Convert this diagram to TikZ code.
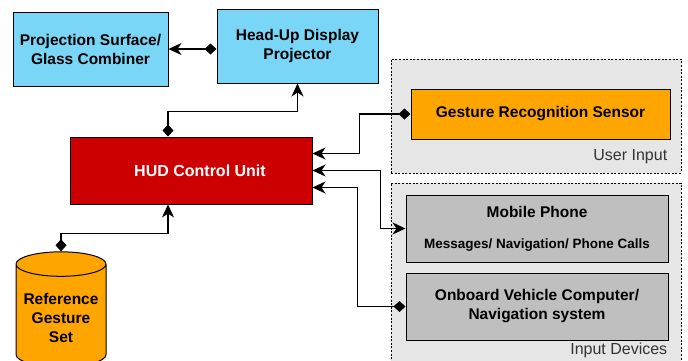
\documentclass[tikz,border=0pt]{standalone}
\usepackage{fontspec}
\setmainfont{Liberation Sans}
\usepackage{tikz}
\usetikzlibrary{positioning, shapes.geometric, arrows.meta}

\definecolor{hudblue}{HTML}{7AD6F6}
\definecolor{hudred}{HTML}{CC0000}
\definecolor{hudorange}{HTML}{FFA500}
\definecolor{devgray}{HTML}{BFBFBF}
\definecolor{grpgray}{HTML}{E6E6E6}
\definecolor{lblgray}{HTML}{333333}

\tikzset{
  box/.style = {draw, line width=1pt, font=\bfseries\fontsize{15.5}{19}\selectfont, align=center},
  grp/.style = {draw, line width=0.9pt, dash pattern=on 2pt off 1.6pt, fill=grpgray},
  grplbl/.style = {inner sep=0pt, text=lblgray, font=\fontsize{16}{18}\selectfont},
  link/.style = {line width=1.3pt},
  dia/.tip = {Diamond[length=12pt, width=11pt]}
}

\begin{document}
\begin{tikzpicture}[x=1pt, y=-1pt, >={Stealth[length=13pt, width=12pt, inset=4pt]}]
\useasboundingbox (0,0) rectangle (688,360);

% dashed groups
\node [grp, minimum width=290pt, minimum height=114pt] (ui) at (536,116) {};
\node [grp, minimum width=290pt, minimum height=189pt] (ind) at (536,277.5) {};
\node [grplbl, anchor=base east] (uilbl) at ([shift={(-14pt,13pt)}]ui.south east) {User Input};
\node [grplbl, anchor=base east] (indlbl) at ([shift={(-14pt,18pt)}]ind.south east) {Input Devices};

% blocks
\node [box, fill=hudblue, minimum width=155pt, minimum height=74pt] (surf) at (90.5,49) {Projection Surface/\\Glass Combiner};
\node [box, fill=hudblue, minimum width=161pt, minimum height=74pt] (proj) at (297.5,46) {Head-Up Display\\Projector};
\node [box, fill=hudred, text=white, font=\bfseries\fontsize{16}{19}\selectfont, minimum width=242pt, minimum height=67pt] (hcu) at (191,170.5) {\hspace*{18pt}HUD Control Unit};
\node [box, fill=hudorange, cylinder, shape border rotate=90, aspect=0.3, minimum width=90pt, minimum height=115pt] (ref) at (61,318) {Reference\\Gesture\\Set};
\node [box, fill=hudorange, minimum width=259pt, minimum height=50pt] (gest) at (540.5,114) {Gesture Recognition Sensor};
\node [box, fill=devgray, minimum width=262pt, minimum height=67pt] (mob) at (537,228.5) {Mobile Phone\\[12pt]{\fontsize{13.5}{15}\selectfont Messages/ Navigation/ Phone Calls}};
\node [box, fill=devgray, minimum width=262pt, minimum height=67pt] (onb) at (537,306.5) {Onboard Vehicle Computer/\\Navigation system};

% connectors
\draw [link, dia->] (proj.west |- surf.east) -- (surf.east);
\draw [link, dia->] ([xshift=-23pt]hcu.north) -- ++(0,-25) -| (proj.south);
\draw [link, dia->] (ref.north) -- ++(0,-18) -| ([xshift=-23pt]hcu.south);
\draw [link, dia->] (gest.west) -- ++(-51,0) |- ([yshift=17pt]hcu.east);
\draw [link, <->] (hcu.east) -- ++(68,0) |- (mob.west);
\draw [link, dia->] (onb.west) -- ++(-48,0) |- ([yshift=-17pt]hcu.east);
\end{tikzpicture}
\end{document}
